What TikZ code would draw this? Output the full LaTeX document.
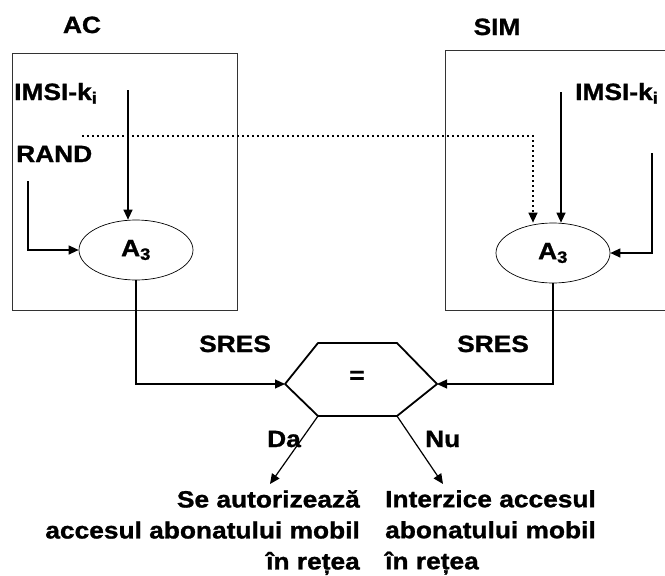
\documentclass[tikz,border=0pt]{standalone}
\usepackage{fontspec}
\setmainfont{Liberation Sans}[FakeStretch=1.12, FakeBold=1.2]
\usetikzlibrary{arrows.meta, shapes.geometric}

\begin{document}
\begin{tikzpicture}[x=1pt, y=-1pt,
  lbl/.style={font=\fontsize{23.5}{31}\selectfont\bfseries, inner sep=0pt},
  alg/.style={draw, ellipse, line width=0.7pt, minimum width=114pt,
              minimum height=60pt, inner sep=0pt, font=\fontsize{23.5}{31}\selectfont\bfseries},
  arr/.style={-{Triangle[length=10pt, width=9pt]}, line width=1.2pt},
  frame/.style={draw=black!80, line width=0.8pt}]

  \useasboundingbox (0,0) rectangle (665,576);

  \draw[frame] (12,53) rectangle (237,310);
  \draw[frame] (665,50) -- (445,50) -- (445,310) -- (665,310);

  \node[lbl, anchor=base] (ac) at (82,33) {AC};
  \node[lbl, anchor=base] (sim) at (497,35) {SIM};
  \node[lbl, anchor=base west] (imsiL) at (14,100) {IMSI-k\textsubscript{i}};
  \node[lbl, anchor=base west] (rand) at (16,162) {RAND};
  \node[lbl, anchor=base west] (imsiR) at (575,100) {IMSI-k\textsubscript{i}};

  \node[alg] (ac3) at (136,250) {A\textsubscript{3}};
  \node[alg] (sim3) at (553,253) {A\textsubscript{3}};

  \coordinate (imsiLs) at (128,90);
  \coordinate (randS) at (28,181);
  \coordinate (dotS) at (82,136);
  \coordinate (imsiRs) at (561,92);
  \coordinate (randR) at (652,153);

  \draw[arr] (imsiLs) -- (imsiLs |- ac3.north);
  \draw[arr] (randS) |- (ac3.west);
  \draw[arr] (imsiRs) -- (imsiRs |- sim3.north);
  \draw[arr] (randR) |- (sim3.east);
  \draw[arr, line width=1.4pt, dash pattern=on 1.5pt off 3.5pt] (dotS) -| ([xshift=-20pt]sim3.north);

  \coordinate (hL) at (285,384);
  \coordinate (hTL) at (318,343);
  \coordinate (hTR) at (397,343);
  \coordinate (hR) at (437,384);
  \coordinate (hBR) at (397,416);
  \coordinate (hBL) at (318,416);
  \draw[line width=1.8pt, line join=round] (hL) -- (hTL) -- (hTR) -- (hR) -- (hBR) -- (hBL) -- cycle;
  \node[lbl] (eq) at (357,377) {=};

  \draw[arr] (ac3.south) |- (hL);
  \draw[arr] (sim3.south) |- (hR);
  \node[lbl, anchor=base] (sresL) at (235,352) {SRES};
  \node[lbl, anchor=base] (sresR) at (493,352) {SRES};

  \coordinate (daE) at (270,484);
  \coordinate (nuE) at (443,484);
  \draw[arr] (hBL) -- (daE);
  \draw[arr] (hBR) -- (nuE);
  \node[lbl, anchor=base west] (da) at (267,447) {Da};
  \node[lbl, anchor=base west] (nu) at (425,447) {Nu};

  \node[lbl, align=right, anchor=north east] (yes) at (360,490)
    {Se autorizează\\accesul abonatului mobil\\în rețea};
  \node[lbl, align=left, anchor=north west] (no) at (385,490)
    {Interzice accesul\\abonatului mobil\\în rețea};
\end{tikzpicture}
\end{document}
